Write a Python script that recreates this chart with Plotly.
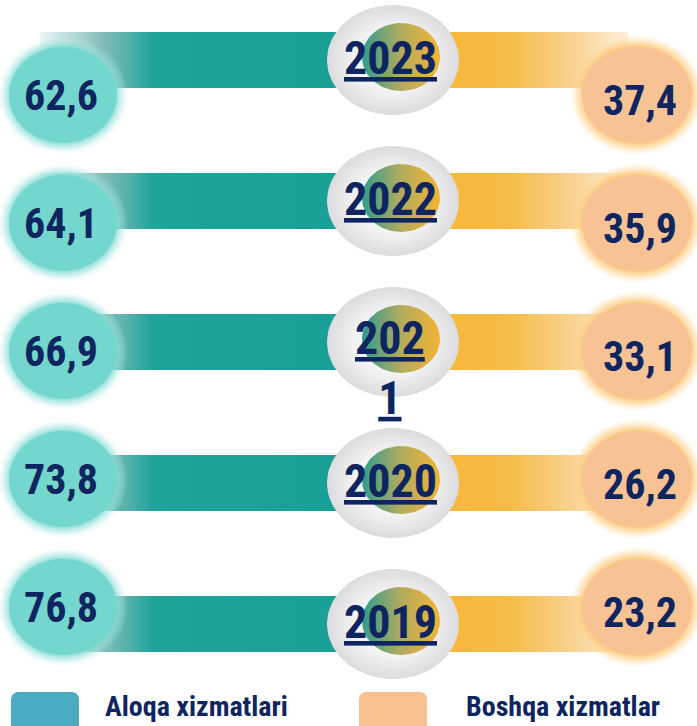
import numpy as np
import plotly.graph_objects as go

# ---------------- data ----------------
years = [2023, 2022, 2021, 2020, 2019]
year_labels = ["2023", "2022", "202\n1", "2020", "2019"]
aloqa = [62.6, 64.1, 66.9, 73.8, 76.8]
boshqa = [37.4, 35.9, 33.1, 26.2, 23.2]
legend_labels = ["Aloqa xizmatlari", "Boshqa xizmatlar"]

# ---------------- layout / style constants ----------------
W, H = 697, 726
BAR_TOP_PX, BAR_STEP_PX = 60, 141       # bar rows (y axis)
CIRC_TOP_PX, CIRC_STEP_PX = 95, 128     # side circles (y2 axis)
NAVY = "#0E2560"
FONT = "Roboto Condensed, Open Sans Condensed, sans-serif"

top1 = years[0] + BAR_TOP_PX / BAR_STEP_PX
bot1 = top1 - H / BAR_STEP_PX
top2 = years[0] + CIRC_TOP_PX / CIRC_STEP_PX
bot2 = top2 - H / CIRC_STEP_PX


def u1(px):
    return px / BAR_STEP_PX


def u2(px):
    return px / CIRC_STEP_PX


def ellipse(cx, cy, rx, ry, n=90):
    t = np.linspace(0, 2 * np.pi, n)
    return cx + rx * np.cos(t), cy + ry * np.sin(t)


def rounded_rect(x0, x1, ytop_px, ybot_px, r=7, n=8):
    xs, ys = [], []
    corners = [(x1 - r, ytop_px + r, -np.pi / 2, 0),
               (x1 - r, ybot_px - r, 0, np.pi / 2),
               (x0 + r, ybot_px - r, np.pi / 2, np.pi),
               (x0 + r, ytop_px + r, np.pi, 1.5 * np.pi)]
    for cx, cy, a0, a1 in corners:
        t = np.linspace(a0, a1, n)
        xs += list(cx + r * np.cos(t))
        ys += list(top1 - u1(cy + r * np.sin(t)))
    xs.append(xs[0])
    ys.append(ys[0])
    return xs, ys


fig = go.Figure()


def poly(x, y, grad=None, color=None, axis="y"):
    kw = dict(x=list(x), y=list(y), mode="lines", fill="toself",
              line=dict(width=0), hoverinfo="skip", showlegend=False,
              yaxis=axis)
    if grad is not None:
        kw["fillgradient"] = grad
        kw["fillcolor"] = "rgba(0,0,0,0)"
    else:
        kw["fillcolor"] = color
    fig.add_trace(go.Scatter(**kw))


teal_grad = [[0, "rgba(120,190,185,0.15)"], [0.2, "rgba(105,175,168,0.8)"],
             [0.38, "#1FA39A"], [1, "#18A097"]]
orange_grad = [[0, "#F6B73B"], [0.35, "#F6BB46"], [0.75, "#F9D69C"],
               [1, "rgba(252,232,200,0.7)"]]
inner_grad = [[0, "#2F9C8D"], [0.5, "#B3AB5E"], [1, "#F3B432"]]
grey_grad = [[0, "#FFFFFF"], [0.6, "#F2F2F3"], [1, "#DCDCDF"]]
teal_glow = [[0, "#74D7CE"], [0.8, "rgba(125,218,210,0.95)"],
             [1, "rgba(190,238,234,0)"]]
orange_glow = [[0, "#F8C394"], [0.8, "rgba(252,198,120,0.95)"],
               [1, "rgba(254,222,160,0)"]]

half = u1(28)
for yr in years:
    # teal bar
    poly([40, 338, 338, 40, 40], [yr - half, yr - half, yr + half, yr + half, yr - half],
         grad=dict(type="horizontal", colorscale=teal_grad))
    # orange bar
    poly([444, 628, 628, 444, 444], [yr - half, yr - half, yr + half, yr + half, yr - half],
         grad=dict(type="horizontal", colorscale=orange_grad))

for yr in years:
    # left circle with glow
    x, y = ellipse(63, yr, 65, u2(59))
    poly(x, y, grad=dict(type="radial", colorscale=teal_glow), axis="y2")
    x, y = ellipse(63, yr, 54, u2(48))
    poly(x, y, color="#74D7CE", axis="y2")
    # right circle with glow
    x, y = ellipse(637, yr, 67, u2(60))
    poly(x, y, grad=dict(type="radial", colorscale=orange_glow), axis="y2")
    x, y = ellipse(637, yr, 55, u2(48))
    poly(x, y, color="#F8C394", axis="y2")

for yr in years:
    # central grey disc with inner gradient disc
    x, y = ellipse(393, yr, 66, u1(55))
    poly(x, y, grad=dict(type="radial", colorscale=grey_grad))
    x, y = ellipse(401, yr + u1(3), 39, u1(34))
    poly(x, y, grad=dict(type="horizontal", colorscale=inner_grad))

# legend swatches
leg_colors = ["#4BABC3", "#F8BF8F"]
leg_x = [(11, 79), (359, 427)]
for (xa, xb), c in zip(leg_x, leg_colors):
    x, y = rounded_rect(xa, xb, 692, 740)
    poly(x, y, color=c)

annotations = []
for yr, lab, a, b in zip(years, year_labels, aloqa, boshqa):
    txt = "<br>".join(f"<u>{p}</u>" for p in lab.split("\n"))
    multi = "\n" in lab
    annotations.append(dict(
        x=390, y=yr, xref="x", yref="y", text=txt, showarrow=False,
        xanchor="center", yanchor="middle",
        yshift=(-26 if multi else 2),
        font=dict(family=FONT, size=46, color=NAVY, weight="bold")))
    annotations.append(dict(
        x=61, y=yr, xref="x", yref="y2", text=f"{a:.1f}".replace(".", ","),
        showarrow=False, xanchor="center", yanchor="middle", yshift=0,
        font=dict(family=FONT, size=42, color=NAVY, weight="bold")))
    annotations.append(dict(
        x=640, y=yr, xref="x", yref="y2", text=f"{b:.1f}".replace(".", ","),
        showarrow=False, xanchor="center", yanchor="middle", yshift=-5,
        font=dict(family=FONT, size=42, color=NAVY, weight="bold")))

leg_text_x = [103, 464]
for lx, lab in zip(leg_text_x, legend_labels):
    annotations.append(dict(
        x=lx, y=top1 - u1(706), xref="x", yref="y", text=lab, showarrow=False,
        xanchor="left", yanchor="middle",
        font=dict(family=FONT, size=28, color=NAVY, weight="bold")))

fig.update_layout(
    width=W, height=H,
    margin=dict(l=0, r=0, t=0, b=0),
    paper_bgcolor="white", plot_bgcolor="white",
    showlegend=False,
    xaxis=dict(range=[0, W], visible=False, fixedrange=True),
    yaxis=dict(range=[bot1, top1], visible=False, fixedrange=True),
    yaxis2=dict(range=[bot2, top2], visible=False, fixedrange=True,
                overlaying="y"),
    annotations=annotations,
)

fig.write_html("out.html", config={"displayModeBar": False},
               post_script="document.body.style.margin='0';")
